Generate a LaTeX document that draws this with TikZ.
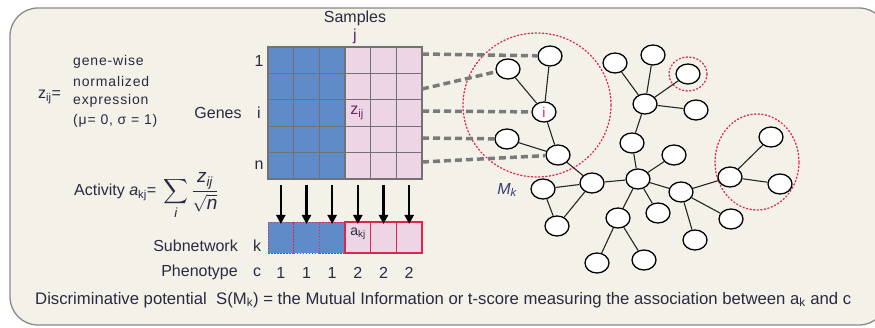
\documentclass[tikz,border=0pt]{standalone}
\usepackage{amsmath}
\usepackage{fontspec}
\setmainfont{Liberation Sans}
\usetikzlibrary{arrows.meta,shapes.geometric}

\definecolor{panel}{HTML}{F4F1E9}
\definecolor{panelline}{HTML}{8A8A8A}
\definecolor{cellblue}{HTML}{5F8CC8}
\definecolor{cellpink}{HTML}{EDD5E5}
\definecolor{gridgray}{HTML}{727272}
\definecolor{hired}{HTML}{E2234A}
\definecolor{ink}{HTML}{2A2A40}
\definecolor{linkgray}{HTML}{7A7A7A}
\definecolor{mkblue}{HTML}{2F3C78}

\tikzset{
  lbl/.style={text=ink, font=\fontsize{16}{19}\selectfont, inner sep=0pt},
  small/.style={text=ink, font=\fontsize{14}{17}\selectfont\addfontfeature{LetterSpace=6}, inner sep=0pt, anchor=west},
  cell/.style={draw=gridgray, line width=1.2pt, minimum width=25.67pt,
    minimum height=26.4pt, inner sep=0pt, outer sep=0pt},
  subcell/.style={minimum width=25.67pt, minimum height=31pt, inner sep=0pt, outer sep=0pt},
  downarrow/.style={line width=2.2pt, -{Triangle[width=9pt,length=9pt]}},
  probe/.style={draw=linkgray, line width=3.5pt, dash pattern=on 7pt off 4pt},
  gene/.style={ellipse, draw=black, line width=1.3pt, fill=white,
    minimum width=24pt, minimum height=20pt, inner sep=0pt},
  link/.style={draw=black!85, line width=1.1pt},
  module/.style={draw=hired, line width=1.3pt, dash pattern=on 1.2pt off 2.4pt, line cap=round}
}

\begin{document}
\begin{tikzpicture}[x=1pt,y=-1pt]
\useasboundingbox (0,0) rectangle (875,328);

% panel
\begin{scope}
  \clip (0,0) rectangle (875,328);
  \draw[draw=panelline, fill=panel, line width=1.3pt, rounded corners=28pt] (10,8) rectangle (887,325);
\end{scope}

% expression matrix
\foreach \r in {1,...,5}{
  \foreach \c in {1,...,6}{
    \ifnum\c<4 \def\cf{cellblue}\else\def\cf{cellpink}\fi
    \node[cell, fill=\cf] (m\r-\c) at ({268+25.67*(\c-0.5)}, {47+26.4*(\r-0.5)}) {};
  }
}
\node[lbl] (samples) at (355,18) {Samples};
\node[lbl, text=mkblue!70!purple] (colj) at (355,36) {j};
\node[lbl] (row1) at (259,61) {1};
\node[lbl] (rowi) at (259,113) {i};
\node[lbl] (rown) at (259,165) {n};
\node[lbl] (genes) at (218,113) {Genes};
\node[lbl, text=mkblue!60!purple] (zij) at (357,113) {z\textsubscript{ij}};

% definition of z_ij
\node[lbl, anchor=west] (zdef) at (38,97) {z\textsubscript{ij}=};
\node[small] (t1) at (73,62) {gene-wise};
\node[small] (t2) at (73,81) {normalized};
\node[small] (t3) at (73,101) {expression};
\node[small] (t4) at (73,121) {(μ= 0, σ = 1)};

% activity formula
\node[lbl, anchor=west] (activity) at (74,196)
  {Activity \textit{a}\textsubscript{kj}= \fontsize{19}{22}\selectfont$\displaystyle\,\sum_{\mathit{i}}\frac{\mathit{z_{ij}}}{\sqrt{\mathit{n}}}$};

% subnetwork activity row
\foreach \c in {1,2,3}
  \node[subcell, fill=cellblue, draw=hired, line width=0.9pt, dash pattern=on 1.5pt off 1.5pt] (s\c) at ({268+25.67*(\c-0.5)},237.5) {};
\foreach \c in {4,5,6}
  \node[subcell, fill=cellpink, draw=hired, line width=1.6pt] (s\c) at ({268+25.67*(\c-0.5)},237.5) {};
\node[lbl, font=\fontsize{14}{17}\selectfont] (akj) at (358,234) {a\textsubscript{kj}};

\foreach \c in {1,...,6}
  \draw[downarrow] ([yshift=-6pt]m5-\c.south) -- ([yshift=-2pt]s\c.north);

\node[lbl, anchor=east] (subnet) at (238,246) {Subnetwork};
\node[lbl] (rowk) at (257,246) {k};
\node[lbl, anchor=east] (pheno) at (238,272) {Phenotype};
\node[lbl] (rowc) at (257,272) {c};
\foreach \c/\v in {1/1,2/1,3/1,4/2,5/2,6/2}
  \node[lbl] (p\c) at ({268+25.67*(\c-0.5)},273) {\v};

\node[lbl, anchor=west, font=\fontsize{16.7}{19}\selectfont] (potential) at (35,300)
  {Discriminative potential\ \ S(M\textsubscript{k}) = the Mutual Information or t-score measuring the association between a\textsubscript{k} and c};

% network modules
\draw[module] (537,105) ellipse [x radius=74pt, y radius=72pt];
\draw[module] (688,74) ellipse [x radius=19pt, y radius=17pt];
\draw[module] (757,162) ellipse [x radius=42pt, y radius=48pt];

% network genes
\node[gene] (A) at (550,56) {};
\node[gene] (B) at (508,69) {};
\node[gene] (I) at (544,112) {};
\node[gene] (C) at (507,139) {};
\node[gene] (D) at (558,155) {};
\node[gene] (E) at (615,63) {};
\node[gene] (F) at (653,55) {};
\node[gene] (G) at (688,74) {};
\node[gene] (H) at (645,104) {};
\node[gene] (J) at (696,110) {};
\node[gene] (K) at (632,143) {};
\node[gene] (L) at (674,155) {};
\node[gene] (M) at (771,137) {};
\node[gene] (N) at (592,183) {};
\node[gene] (O) at (543,189) {};
\node[gene] (P) at (557,226) {};
\node[gene] (Q) at (638,179) {};
\node[gene] (R) at (681,192) {};
\node[gene] (S) at (730,177) {};
\node[gene] (T) at (780,184) {};
\node[gene] (U) at (618,218) {};
\node[gene] (V) at (658,213) {};
\node[gene] (W) at (731,219) {};
\node[gene] (X) at (695,240) {};
\node[gene] (Y) at (597,263) {};
\node[gene] (Z) at (644,260) {};
\node[text=hired, font=\fontsize{14}{17}\selectfont, inner sep=0pt] (ilabel) at (I) {i};

% probes from matrix rows to genes
\coordinate (d1) at (422,54);
\coordinate (d2) at (422,89);
\coordinate (d3) at (422,111);
\coordinate (d4) at (422,138);
\coordinate (d5) at (422,162);
\draw[probe] (d1) -- (A);
\draw[probe] (d2) -- (B);
\draw[probe] (d3) -- (I);
\draw[probe] (d4) -- (C);
\draw[probe] (d5) -- (D);

% interactions
\foreach \u/\v in {A/I,B/I,I/D,C/D,D/N,N/O,O/P,P/N,N/Q,H/E,H/F,H/G,H/J,H/K,K/Q,L/Q,Q/R,Q/U,Q/V,U/Y,U/Z,R/X,R/W,R/S,S/T,S/M}
  \draw[link] (\u) -- (\v);

\node[text=mkblue, font=\fontsize{16}{19}\selectfont\itshape, inner sep=0pt] (mk) at (507,190) {M\textsubscript{k}};
\end{tikzpicture}
\end{document}
